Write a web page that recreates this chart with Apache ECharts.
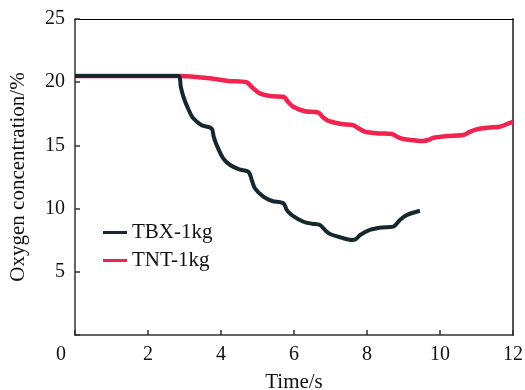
<!DOCTYPE html>
<html>
<head>
<meta charset="utf-8">
<script src="https://cdn.jsdelivr.net/npm/echarts@6/dist/echarts.min.js"></script>
<style>html,body{margin:0;padding:0;background:#fff}#c{width:525px;height:390px}</style>
</head>
<body>
<div id="c"></div>
<script>
// Data
var tbxTime = [0, 1, 2, 2.83, 2.9, 2.97, 3.1, 3.24, 3.47, 3.74, 3.8, 3.88, 4.06, 4.25, 4.5, 4.75, 4.85, 4.93, 5.16, 5.4, 5.71, 5.8, 5.94, 6.26, 6.5, 6.71, 6.85, 6.99, 7.3, 7.58, 7.7, 7.81, 8.08, 8.4, 8.72, 8.9, 9.1, 9.45];
var tbxO2 = [20.5, 20.5, 20.5, 20.5, 19.6, 18.85, 17.9, 17.14, 16.6, 16.35, 15.7, 15.03, 13.98, 13.45, 13.1, 12.92, 12.2, 11.6, 10.94, 10.6, 10.42, 9.9, 9.49, 8.96, 8.8, 8.7, 8.3, 7.99, 7.7, 7.52, 7.6, 7.91, 8.31, 8.5, 8.57, 9.1, 9.5, 9.83];
var tntTime = [0, 1, 2, 2.9, 3.74, 4.2, 4.7, 4.85, 5.07, 5.34, 5.71, 5.85, 5.98, 6.3, 6.67, 6.8, 6.94, 7.3, 7.62, 7.8, 7.95, 8.3, 8.68, 8.85, 8.99, 9.3, 9.54, 9.7, 9.82, 10.2, 10.64, 10.8, 11.0, 11.3, 11.64, 11.85, 12.0];
var tntO2 = [20.5, 20.5, 20.5, 20.5, 20.3, 20.1, 20.0, 19.6, 19.1, 18.9, 18.85, 18.4, 18.06, 17.7, 17.59, 17.2, 16.95, 16.7, 16.6, 16.3, 16.08, 15.95, 15.9, 15.65, 15.5, 15.4, 15.35, 15.45, 15.6, 15.75, 15.82, 16.05, 16.27, 16.4, 16.48, 16.7, 16.87];
var seriesNames = ['TBX-1kg', 'TNT-1kg'];
var xTicks = [0, 2, 4, 6, 8, 10, 12];
var yTicks = [0, 5, 10, 15, 20, 25];

function pairs(xs, ys) { return xs.map(function (x, i) { return [x, ys[i]]; }); }

var FONT = '"Liberation Serif", "Times New Roman", serif';
var chart = echarts.init(document.getElementById('c'), null, { renderer: 'canvas' });
chart.setOption({
  animation: false,
  backgroundColor: '#fff',
  textStyle: { fontFamily: FONT },
  grid: { left: 75, right: 12, top: 19, bottom: 55, containLabel: false, outerBoundsMode: 'none' },
  legend: {
    orient: 'vertical', left: 98, top: 217, itemGap: 7,
    itemWidth: 24, itemHeight: 3, icon: 'rect',
    lineStyle: { width: 3 },
    textStyle: { fontFamily: FONT, fontSize: 21, color: '#111' },
    data: seriesNames
  },
  xAxis: [{
    type: 'value', min: xTicks[0], max: xTicks[xTicks.length - 1], interval: 2,
    name: 'Time/s', nameLocation: 'middle', nameGap: 37,
    nameTextStyle: { fontFamily: FONT, fontSize: 21, color: '#111' },
    axisLine: { show: true, lineStyle: { color: '#333', width: 1.5 } },
    axisTick: { show: true, inside: true, length: 5, lineStyle: { color: '#333', width: 1.5 } },
    axisLabel: {
      fontFamily: FONT, fontSize: 20, color: '#111', margin: 10,
      formatter: function (v) { return v === 0 ? '{z|0}' : String(v); },
      rich: { z: { fontFamily: FONT, fontSize: 20, color: '#111', padding: [0, 28, 0, 0] } }
    },
    splitLine: { show: false }
  }, {
    type: 'value', position: 'top', min: 0, max: 12,
    axisLine: { show: true, onZero: false, lineStyle: { color: '#000', width: 1 } },
    axisTick: { show: false }, axisLabel: { show: false }, splitLine: { show: false }
  }],
  yAxis: [{
    type: 'value', min: yTicks[0], max: yTicks[yTicks.length - 1], interval: 5,
    name: 'Oxygen concentration/%', nameLocation: 'middle', nameGap: 46,
    nameTextStyle: { fontFamily: FONT, fontSize: 21, color: '#111' },
    axisLine: { show: true, lineStyle: { color: '#333', width: 1.5 } },
    axisTick: { show: true, inside: true, length: 5, lineStyle: { color: '#333', width: 1.5 } },
    axisLabel: {
      fontFamily: FONT, fontSize: 20, color: '#111', margin: 10,
      formatter: function (v) { return v === 0 ? '' : String(v); }
    },
    splitLine: { show: false }
  }, {
    type: 'value', position: 'right', min: 0, max: 25,
    axisLine: { show: true, onZero: false, lineStyle: { color: '#555', width: 2 } },
    axisTick: { show: false }, axisLabel: { show: false }, splitLine: { show: false }
  }],
  series: [{
    name: seriesNames[0], type: 'line', data: pairs(tbxTime, tbxO2),
    showSymbol: false, smooth: 0.3, color: '#17272f',
    lineStyle: { color: '#17272f', width: 4 }, z: 3
  }, {
    name: seriesNames[1], type: 'line', data: pairs(tntTime, tntO2),
    showSymbol: false, smooth: 0.3, color: '#f2234f',
    lineStyle: { color: '#f2234f', width: 4.5 }, z: 2
  }]
});
</script>
</body>
</html>
